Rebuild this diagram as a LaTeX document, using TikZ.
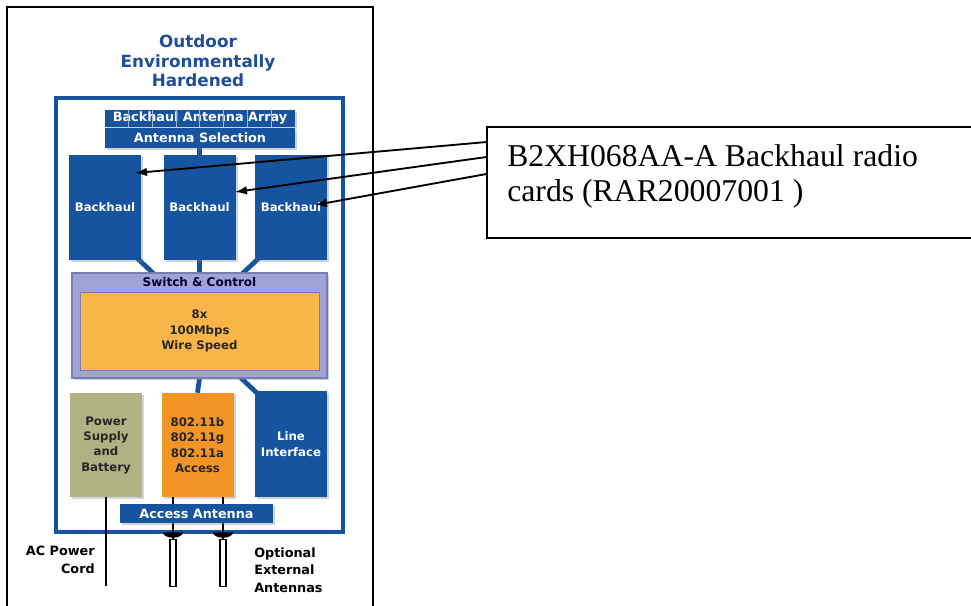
\documentclass[tikz,border=0pt]{standalone}
\usepackage{fontspec}
\setmainfont{Liberation Serif}
\newfontfamily\gill{DejaVu Sans}
\usetikzlibrary{positioning,calc,shadows,arrows.meta}

\definecolor{unitblue}{RGB}{22,84,160}
\definecolor{titleblue}{RGB}{30,78,150}
\definecolor{switchgray}{RGB}{158,164,214}
\definecolor{switchedge}{RGB}{120,126,180}
\definecolor{coreorange}{RGB}{250,182,72}
\definecolor{accorange}{RGB}{242,148,38}
\definecolor{powerolive}{RGB}{176,178,132}

\pgfdeclarelayer{background}
\pgfsetlayers{background,main}

\begin{document}
\begin{tikzpicture}[x=0.75pt,y=-0.75pt,
    shade/.style={drop shadow={shadow xshift=1.8pt, shadow yshift=-1.8pt, opacity=.35}},
    card/.style={shade, fill=unitblue, text=white, font=\gill\bfseries\fontsize{8.8}{11.5}\selectfont,
        minimum width=54pt, minimum height=78.75pt, inner sep=0pt, align=center},
    strip/.style={shade, fill=unitblue, text=white, font=\gill\bfseries\fontsize{9.6}{11}\selectfont,
        minimum width=142.5pt, inner sep=0pt},
    link/.style={draw=unitblue, line width=3.6pt},
    lead/.style={line width=1.4pt, -{Latex[length=9pt,width=6.5pt]}},
    caption/.style={font=\gill\bfseries\fontsize{9.6}{13}\selectfont, inner sep=0pt}]
\useasboundingbox (0,0) rectangle (971,606);

% outer housing frame (runs off the bottom)
\draw[line width=1.5pt] (7,610) -- (7,7) -- (373,7) -- (373,610);

\node[font=\gill\bfseries\fontsize{12.6}{14.8}\selectfont, text=titleblue, align=center] (title) at (198,61)
    {Outdoor\\Environmentally\\Hardened};

% unit enclosure
\draw[draw=unitblue, line width=3pt] (56,98) rectangle (343,532);

% antenna array and selection bars
\node[strip, minimum height=12.75pt] (arr) at (200,118.5) {Backhaul Antenna Array};
\foreach \k in {1,...,7}
    \draw[white!60!unitblue, line width=0.6pt] ($(arr.north west)+(23.75*\k,0)$) -- ($(arr.south west)+(23.75*\k,0)$);
\node[strip, minimum height=15pt, below=0pt of arr] (sel) {Antenna Selection};

% radio cards
\node[card] (bh1) at (105,207.5) {Backhaul};
\node[card] (bh2) at (199.5,207.5) {Backhaul};
\node[card] (bh3) at (291,207.5) {Backhaul};

% switch and its core
\node[shade, fill=switchgray, draw=switchedge, line width=0.8pt, minimum width=191.25pt, minimum height=78.75pt] (sw) at (199.5,325.5) {};
\node[font=\gill\bfseries\fontsize{9}{11}\selectfont, text=black!80!blue, anchor=north, inner sep=0pt] (swtext) at ($(sw.north)+(0,5)$) {Switch \& Control};
\node[fill=coreorange, draw=switchedge, line width=0.4pt, minimum width=179.25pt, minimum height=58.5pt,
    font=\gill\bfseries\fontsize{8.8}{11.5}\selectfont, text=black!85, align=center] (core) at (199.5,331) {8x\\100Mbps\\Wire Speed};

% lower modules
\node[card, fill=powerolive, text=black!85, minimum height=78pt] (ps) at (106,445) {Power\\Supply\\and\\Battery};
\node[card, fill=accorange, text=black!85, minimum height=78pt] (acc) at (197.5,445) {802.11b\\802.11g\\802.11a\\Access};
\node[card, minimum height=79.5pt] (li) at (291,444) {Line\\Interface};

% connections behind the modules
\begin{pgfonlayer}{background}
\draw[link] ($(bh1.north)+(20,0)$) -- ($(bh1.north)+(20,0)$ |- sel.south);
\draw[link] (bh2.north) -- (bh2.north |- sel.south);
\draw[link] ($(bh3.north)+(-21,0)$) -- ($(bh3.north)+(-21,0)$ |- sel.south);
\draw[link] ($(bh1.south east)+(-4,-2)$) -- ($(sw.north west)+(83,2)$);
\draw[link] (bh2.south) -- (sw.north);
\draw[link] ($(bh3.south west)+(4,-2)$) -- ($(sw.north east)+(-86,2)$);
\draw[link] (sw.south) -- (acc.north);
\draw[link] ($(sw.south)+(40,-2)$) -- ($(li.north west)+(4,4)$);
\end{pgfonlayer}

% external antennas and feed lines
\foreach \dx/\nm in {-24.5/a1, 25.5/a2} {
    \coordinate (\nm) at ($(acc.south)+(\dx,0)$);
    \draw[line width=1.6pt] (\nm) -- ++(0,42);
    \fill ($(\nm)+(-10,35)$) -- ++(20,0) arc[start angle=0, end angle=180, x radius=10, y radius=5.5] -- cycle;
    \draw[line width=0.9pt, fill=white] ($(\nm)+(-3,42)$) rectangle ($(\nm)+(3,89)$);
}
\node[strip, minimum width=114.75pt, minimum height=14.25pt] (aa) at (196.5,513.5) {Access Antenna};

% power cord
\coordinate (plug) at ($(ps.south)+(0,89)$);
\draw[line width=2.2pt] (ps.south) -- (plug);

\node[caption, align=right, anchor=east] (cord) at (95,560) {AC Power\\Cord};
\node[caption, align=left, anchor=west] (ext) at (254,570) {Optional\\External\\Antennas};

% callout
\node[draw, line width=1.4pt, minimum width=369.75pt, minimum height=83.25pt, inner sep=0pt] (note) at (733.5,182.5) {};
\node[anchor=north west, align=left, inner sep=0pt, font=\fontsize{23.8}{26.3}\selectfont] (notetext) at (507,144)
    {B2XH068AA-A Backhaul radio\\cards (RAR20007001 )};

\draw[lead] ($(note.north west)+(0,16)$) -- ($(bh1.center)+(30,-34.5)$);
\draw[lead] ($(note.north west)+(0,31)$) -- ($(bh2.center)+(35.5,-15.5)$);
\draw[lead] ($(note.north west)+(0,48)$) -- ($(bh3.center)+(24,-2.5)$);
\end{tikzpicture}
\end{document}
